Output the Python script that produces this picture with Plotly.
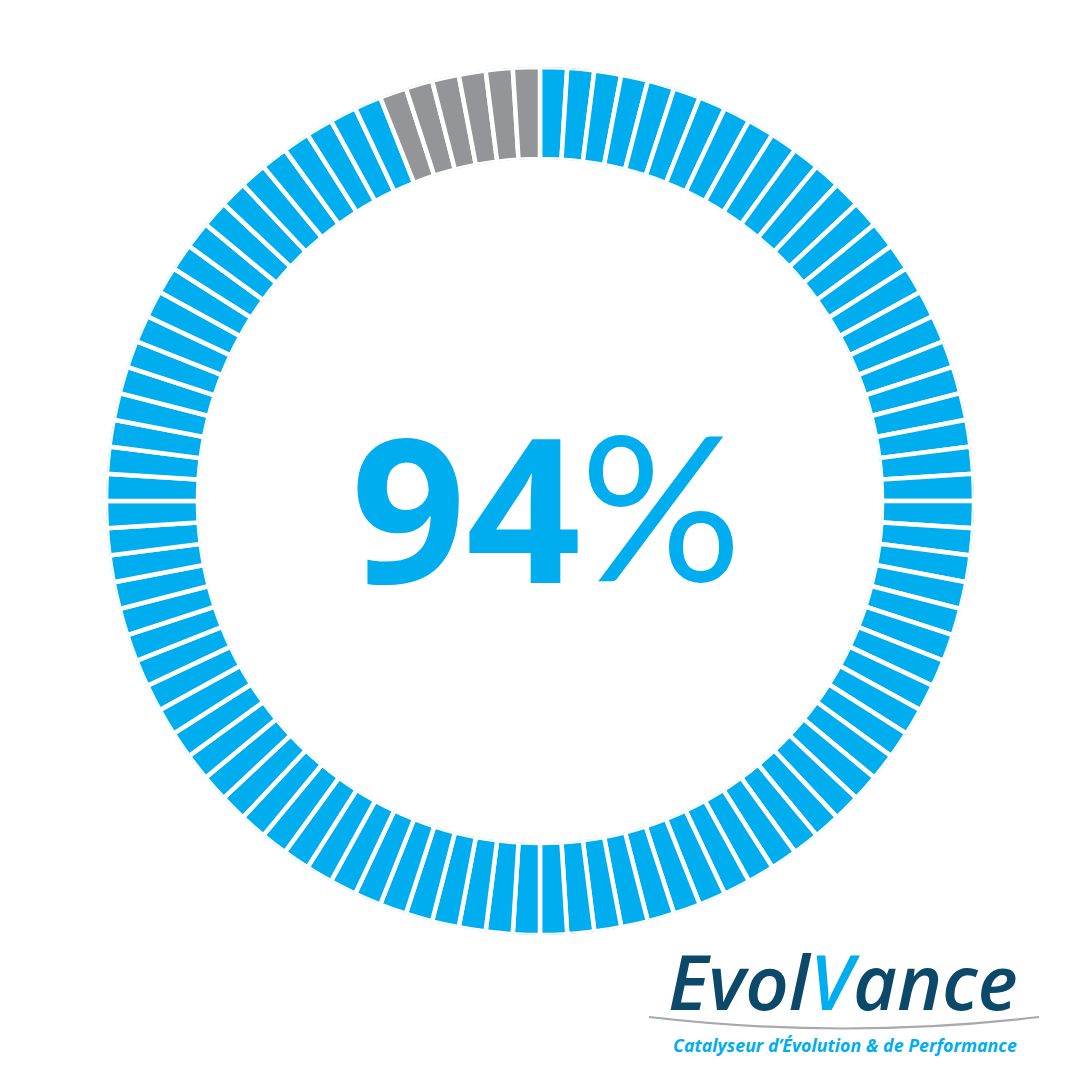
import plotly.graph_objects as go

# ---- data ----
percent_value = 94          # headline value
segment_count = 100         # number of gauge ticks
segment_index = list(range(segment_count))
label_value = "94"
label_unit = "%"
brand_parts = ["Evol", "V", "ance"]
tagline = "Catalyseur d’Évolution & de Performance"

BLUE = "#00AEEF"
GRAY = "#939598"
NAVY = "#0B486A"

step = 360 / segment_count
thetas = [step * i + step / 2 for i in segment_index]
colors = [BLUE if i < percent_value else GRAY for i in segment_index]

fig = go.Figure()
fig.add_trace(go.Barpolar(
    r=[1] * segment_count,
    theta=thetas,
    width=[step] * segment_count,
    marker=dict(color=colors, line=dict(color="white", width=4.5)),
    hoverinfo="skip",
    showlegend=False,
))

W = H = 1080
OX, OY = 8, 8   # page body margin compensation
R = 434
cx, cy = 540 - OX, 501 - OY
fig.update_layout(
    width=W, height=H,
    margin=dict(l=0, r=0, t=0, b=0),
    paper_bgcolor="white",
    plot_bgcolor="white",
    polar=dict(
        domain=dict(x=[(cx - R) / W, (cx + R) / W],
                    y=[1 - (cy + R) / H, 1 - (cy - R) / H]),
        hole=342 / R,
        bgcolor="white",
        radialaxis=dict(visible=False, range=[0, 1]),
        angularaxis=dict(visible=False, direction="clockwise", rotation=90),
        bargap=0,
    ),
)

def px(x):
    return (x - OX) / W

def py(y):
    return 1 - (y - OY) / H

annotations = [
    dict(text=label_value, x=px(466), y=py(505), xanchor="center", yanchor="middle",
         font=dict(family="Open Sans", size=201, color=BLUE, weight=700)),
    dict(text=label_unit, x=px(661), y=py(503), xanchor="center", yanchor="middle",
         font=dict(family="Lato", size=202, color=BLUE, weight=400)),
    dict(text="<i>" + brand_parts[0] + "<span style='color:" + BLUE + "'>" + brand_parts[1] + "</span>" + brand_parts[2] + "</i>",
         x=px(843), y=py(980), xanchor="center", yanchor="middle",
         font=dict(family="Open Sans", size=76, color=NAVY, weight=600)),
    dict(text="<i><b>" + tagline + "</b></i>", x=px(845), y=py(1045), xanchor="center", yanchor="middle",
         font=dict(family="Open Sans", size=17.8, color=BLUE)),
]
for a in annotations:
    a.update(xref="paper", yref="paper", showarrow=False)
fig.update_layout(annotations=annotations)

# decorative swoosh under the brand name
fig.add_shape(type="path", xref="paper", yref="paper",
              path=f"M {px(649)} {py(1017)} Q {px(844)} {py(1040)} {px(1039)} {py(1017)}",
              line=dict(color="#A7A9AC", width=2.2))

fig.write_html("out.html")
